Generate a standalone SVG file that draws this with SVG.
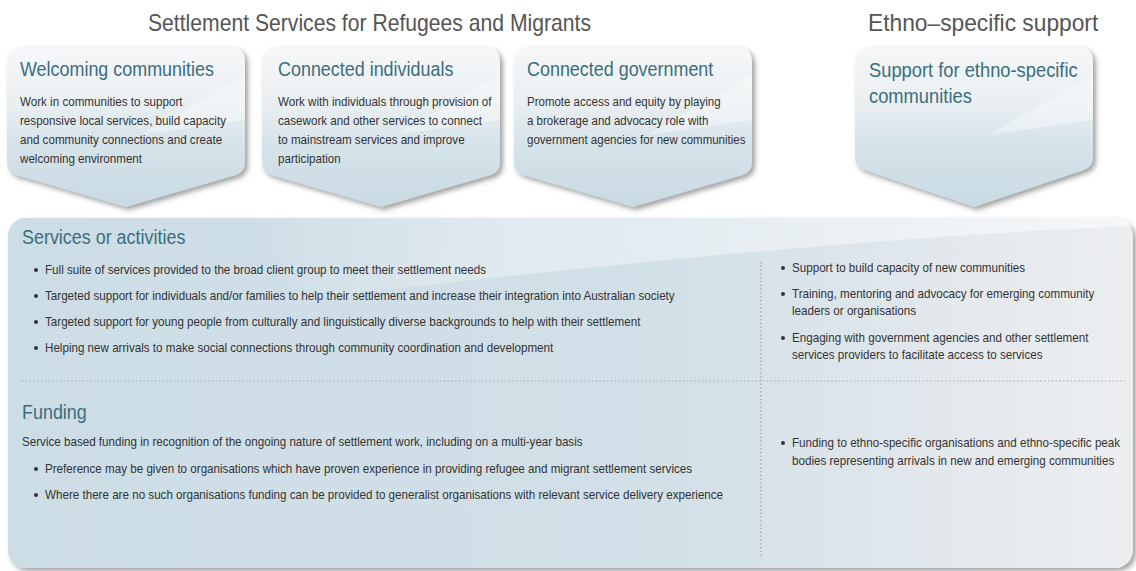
<svg xmlns="http://www.w3.org/2000/svg" width="1136" height="571" viewBox="0 0 1136 571">
<defs>
<linearGradient id="boxg" x1="0" y1="0" x2="0" y2="1">
<stop offset="0" stop-color="#f6f7f9"/>
<stop offset="0.35" stop-color="#eaeff2"/>
<stop offset="0.6" stop-color="#d6e3ea"/>
<stop offset="1" stop-color="#c9dae3"/>
</linearGradient>
<linearGradient id="panelg" x1="0" y1="0" x2="1" y2="0">
<stop offset="0" stop-color="#cddde6"/>
<stop offset="0.6" stop-color="#d2e0e8"/>
<stop offset="0.85" stop-color="#e4e9ed"/>
<stop offset="1" stop-color="#eceef0"/>
</linearGradient>
<linearGradient id="sheen" x1="0" y1="0" x2="1" y2="0">
<stop offset="0" stop-color="#ffffff" stop-opacity="0"/>
<stop offset="0.3" stop-color="#ffffff" stop-opacity="0.35"/>
<stop offset="1" stop-color="#ffffff" stop-opacity="0.5"/>
</linearGradient>
<filter id="sh" x="-10%" y="-10%" width="125%" height="130%">
<feDropShadow dx="3" dy="3" stdDeviation="2.5" flood-color="#555" flood-opacity="0.55"/>
</filter>
<style>
.hd{font-family:"Liberation Sans",Arial,sans-serif;font-size:23px;fill:#555}
.bt{font-family:"Liberation Sans",Arial,sans-serif;font-size:19.5px;fill:#3b6e7d}
.tx{font-family:"Liberation Sans",Arial,sans-serif;font-size:12.5px;fill:#333}
.box{fill:url(#boxg);filter:url(#sh)}
.bsheen{fill:#ffffff;opacity:0.35}
.dot{fill:#333}
.dl{stroke:#8a9aa3;stroke-width:1.2;stroke-dasharray:1.2 2.6;fill:none}
</style>
</defs>

<g id="headers">
<text class="hd" transform="translate(148,31) scale(0.92,1)">Settlement Services for Refugees and Migrants</text>
<text class="hd" transform="translate(868,31) scale(0.99,1)">Ethno–specific support</text>
</g>

<g id="panel">
<rect x="8" y="218" width="1125" height="350" rx="18" fill="url(#panelg)" filter="url(#sh)"/>
<path d="M 250,218 L 1115,218 Q 1130,219 1133,226 Q 800,240 300,300 Q 270,250 250,218 Z" fill="url(#sheen)"/>
</g>

<g id="box-welcoming">
<path class="box" d="M 22,47 L 230,47 Q 245,47 245,62 L 245,162 Q 245,172 236,175 L 126,207 L 16,175 Q 7,172 7,162 L 7,62 Q 7,47 22,47 Z"/>
<path class="bsheen" d="M 140,135 L 245,75 L 245,120 Z"/>
<text class="bt" transform="translate(20,76) scale(0.92,1)">Welcoming communities</text>
<text class="tx" transform="translate(20,106) scale(0.93,1)">Work in communities to support</text>
<text class="tx" transform="translate(20,125) scale(0.93,1)">responsive local services, build capacity</text>
<text class="tx" transform="translate(20,144) scale(0.93,1)">and community connections and create</text>
<text class="tx" transform="translate(20,163) scale(0.93,1)">welcoming environment</text>
</g>

<g id="box-individuals">
<path class="box" d="M 277,47 L 485,47 Q 500,47 500,62 L 500,162 Q 500,172 491,175 L 381,207 L 271,175 Q 262,172 262,162 L 262,62 Q 262,47 277,47 Z"/>
<path class="bsheen" d="M 395,135 L 500,75 L 500,120 Z"/>
<text class="bt" transform="translate(278,76) scale(0.92,1)">Connected individuals</text>
<text class="tx" transform="translate(278,106) scale(0.93,1)">Work with individuals through provision of</text>
<text class="tx" transform="translate(278,125) scale(0.93,1)">casework and other services to connect</text>
<text class="tx" transform="translate(278,144) scale(0.93,1)">to mainstream services and improve</text>
<text class="tx" transform="translate(278,163) scale(0.93,1)">participation</text>
</g>

<g id="box-government">
<path class="box" d="M 529,47 L 737,47 Q 752,47 752,62 L 752,162 Q 752,172 743,175 L 633,207 L 523,175 Q 514,172 514,162 L 514,62 Q 514,47 529,47 Z"/>
<path class="bsheen" d="M 647,135 L 752,75 L 752,120 Z"/>
<text class="bt" transform="translate(527,76) scale(0.92,1)">Connected government</text>
<text class="tx" transform="translate(527,106) scale(0.92,1)">Promote access and equity by playing</text>
<text class="tx" transform="translate(527,125) scale(0.92,1)">a brokerage and advocacy role with</text>
<text class="tx" transform="translate(527,144) scale(0.92,1)">government agencies for new communities</text>
</g>

<g id="box-ethno">
<path class="box" d="M 870,47 L 1078,47 Q 1093,47 1093,62 L 1093,157 Q 1093,167 1084,170 L 974,207 L 864,170 Q 855,167 855,157 L 855,62 Q 855,47 870,47 Z"/>
<path class="bsheen" d="M 988,135 L 1093,75 L 1093,120 Z"/>
<text class="bt" transform="translate(869,77) scale(0.94,1)">Support for ethno-specific</text>
<text class="bt" transform="translate(869,103) scale(0.94,1)">communities</text>
</g>

<g id="connectors">
<line class="dl" x1="22" y1="381" x2="1125" y2="381"/>
<line class="dl" x1="761" y1="262" x2="761" y2="558"/>
</g>

<g id="services">
<text class="bt" transform="translate(22,244) scale(0.92,1)">Services or activities</text>
<circle class="dot" cx="36" cy="270" r="2"/>
<text class="tx" transform="translate(45,274) scale(0.93,1)">Full suite of services provided to the broad client group to meet their settlement needs</text>
<circle class="dot" cx="36" cy="296" r="2"/>
<text class="tx" transform="translate(45,300) scale(0.93,1)">Targeted support for individuals and/or families to help their settlement and increase their integration into Australian society</text>
<circle class="dot" cx="36" cy="322" r="2"/>
<text class="tx" transform="translate(45,326) scale(0.93,1)">Targeted support for young people from culturally and linguistically diverse backgrounds to help with their settlement</text>
<circle class="dot" cx="36" cy="348" r="2"/>
<text class="tx" transform="translate(45,352) scale(0.93,1)">Helping new arrivals to make social connections through community coordination and development</text>
</g>

<g id="services-ethno">
<circle class="dot" cx="783" cy="268" r="2"/>
<text class="tx" transform="translate(792,272) scale(0.93,1)">Support to build capacity of new communities</text>
<circle class="dot" cx="783" cy="294" r="2"/>
<text class="tx" transform="translate(792,298) scale(0.93,1)">Training, mentoring and advocacy for emerging community</text>
<text class="tx" transform="translate(792,315) scale(0.93,1)">leaders or organisations</text>
<circle class="dot" cx="783" cy="338" r="2"/>
<text class="tx" transform="translate(792,342) scale(0.93,1)">Engaging with government agencies and other settlement</text>
<text class="tx" transform="translate(792,359) scale(0.93,1)">services providers to facilitate access to services</text>
</g>

<g id="funding">
<text class="bt" transform="translate(22,419) scale(0.92,1)">Funding</text>
<text class="tx" transform="translate(22,446) scale(0.93,1)">Service based funding in recognition of the ongoing nature of settlement work, including on a multi-year basis</text>
<circle class="dot" cx="36" cy="469" r="2"/>
<text class="tx" transform="translate(45,473) scale(0.93,1)">Preference may be given to organisations which have proven experience in providing refugee and migrant settlement services</text>
<circle class="dot" cx="36" cy="495" r="2"/>
<text class="tx" transform="translate(45,499) scale(0.93,1)">Where there are no such organisations funding can be provided to generalist organisations with relevant service delivery experience</text>
</g>

<g id="funding-ethno">
<circle class="dot" cx="783" cy="443" r="2"/>
<text class="tx" transform="translate(792,447) scale(0.93,1)">Funding to ethno-specific organisations and ethno-specific peak</text>
<text class="tx" transform="translate(792,465) scale(0.93,1)">bodies representing arrivals in new and emerging communities</text>
</g>
</svg>
